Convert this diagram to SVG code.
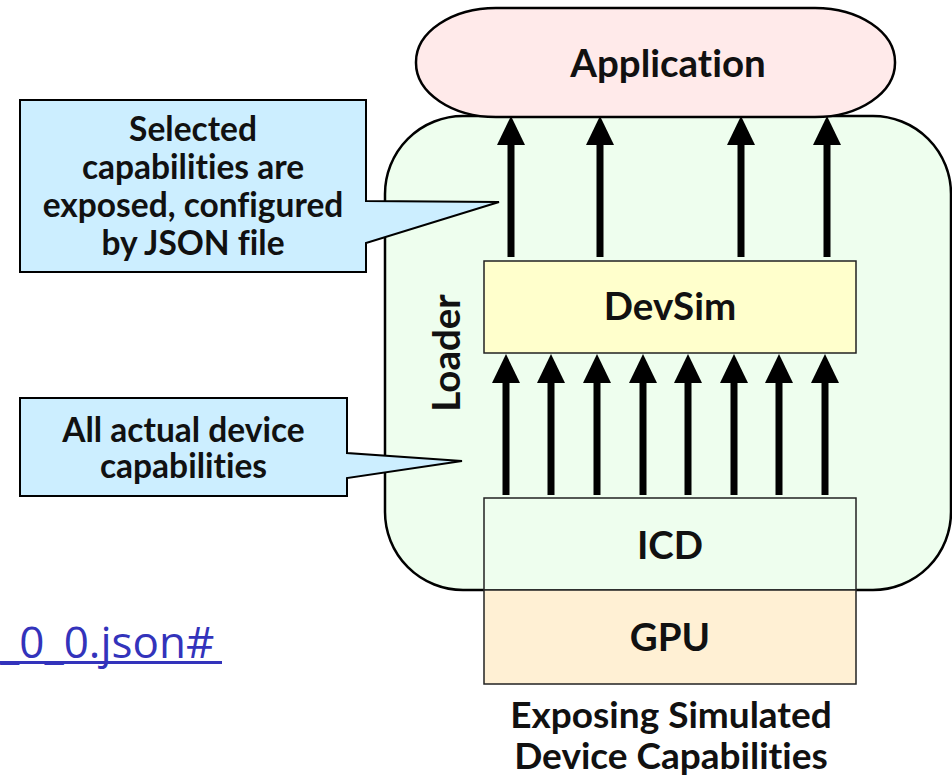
<svg xmlns="http://www.w3.org/2000/svg" width="952" height="778" viewBox="0 0 952 778">
<style>
  text { font-family: Lato, "Liberation Sans", sans-serif; font-weight: bold; fill: #111; text-anchor: middle; font-variant-ligatures: none; font-feature-settings: "liga" 0, "clig" 0; }
  .lbl { font-size: 38.5px; }
  .cap { font-size: 37px; }
  .call { font-size: 33.5px; }
  .box { stroke: #222; stroke-width: 1.5; }
  .shaft { stroke: #000; stroke-width: 7; fill: none; marker-end: url(#head); }
  .link { font-family: "Open Sans", "Noto Sans", sans-serif; font-weight: normal; fill: #3333bb; font-size: 44px; text-anchor: start; }
</style>
<defs>
  <marker id="head" markerUnits="userSpaceOnUse" markerWidth="40" markerHeight="40" viewBox="0 -20 40 40" refX="0" refY="0" orient="auto">
    <path d="M0,-14 L29,0 L0,14 Z" fill="#000"/>
  </marker>
</defs>
<rect width="952" height="778" fill="#fff"/>

<g id="link">
  <text class="link" x="0" y="658">_0_0.json#</text>
  <rect x="0" y="661" width="222" height="3" fill="#3333bb"/>
</g>

<g id="loader">
  <rect x="385" y="116" width="566" height="474" rx="78" ry="78" fill="#eefeee" stroke="#000" stroke-width="2.5"/>
  <text class="lbl" transform="translate(460,353) rotate(-90)">Loader</text>
</g>

<g id="application">
  <rect x="416" y="8" width="479" height="109" rx="80" ry="54" fill="#ffeaea" stroke="#000" stroke-width="2.5"/>
  <text class="lbl" x="668" y="77">Application</text>
</g>

<g id="devsim">
  <rect class="box" x="484" y="261" width="372" height="92" fill="#ffffcc"/>
  <text class="lbl" x="670" y="320">DevSim</text>
</g>

<g id="icd">
  <rect class="box" x="484" y="498" width="372" height="92" fill="#eefeee"/>
  <text class="lbl" x="670" y="559">ICD</text>
</g>

<g id="gpu">
  <rect class="box" x="484" y="590" width="372" height="94" fill="#fff0d4"/>
  <text class="lbl" x="670" y="651">GPU</text>
</g>

<g id="connectors">
  <line class="shaft" x1="511" y1="257" x2="511" y2="145"/>
  <line class="shaft" x1="600" y1="257" x2="600" y2="145"/>
  <line class="shaft" x1="741" y1="257" x2="741" y2="145"/>
  <line class="shaft" x1="827" y1="257" x2="827" y2="145"/>

  <line class="shaft" x1="506" y1="495" x2="506" y2="383"/>
  <line class="shaft" x1="551" y1="495" x2="551" y2="383"/>
  <line class="shaft" x1="597" y1="495" x2="597" y2="383"/>
  <line class="shaft" x1="643" y1="495" x2="643" y2="383"/>
  <line class="shaft" x1="688" y1="495" x2="688" y2="383"/>
  <line class="shaft" x1="734" y1="495" x2="734" y2="383"/>
  <line class="shaft" x1="779" y1="495" x2="779" y2="383"/>
  <line class="shaft" x1="825" y1="495" x2="825" y2="383"/>
</g>

<g id="callout-selected">
  <path d="M20,100 H366 V201 L499,202 L366,243 V272 H20 Z" fill="#cceeff" stroke="#000" stroke-width="2"/>
  <text class="call" x="193" y="141">Selected</text>
  <text class="call" x="193" y="179">capabilities are</text>
  <text class="call" x="193" y="217">exposed, configured</text>
  <text class="call" x="193" y="255">by JSON file</text>
</g>

<g id="callout-actual">
  <path d="M20,398 H347 V453 L462,461 L347,478 V496 H20 Z" fill="#cceeff" stroke="#000" stroke-width="2"/>
  <text class="call" x="183.5" y="442">All actual device</text>
  <text class="call" x="183.5" y="478">capabilities</text>
</g>

<g id="caption">
  <text class="cap" x="671" y="728">Exposing Simulated</text>
  <text class="cap" x="671" y="769">Device Capabilities</text>
</g>
</svg>
